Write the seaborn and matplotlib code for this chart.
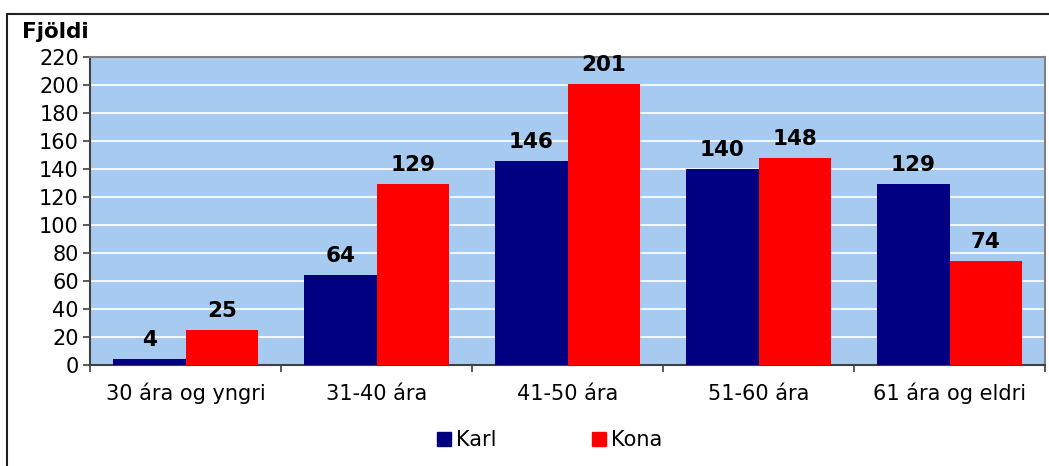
import matplotlib
matplotlib.use("Agg")
import matplotlib.pyplot as plt
import seaborn as sns
import pandas as pd
from matplotlib.lines import Line2D
from matplotlib.ticker import FixedLocator

categories = ["30 ára og yngri", "31-40 ára", "41-50 ára", "51-60 ára", "61 ára og eldri"]
karl = [4, 64, 146, 140, 129]
kona = [25, 129, 201, 148, 74]
series = ["Karl", "Kona"]
colors = ["#000080", "#FF0000"]

df = pd.DataFrame({
    "cat": categories * 2,
    "val": karl + kona,
    "sex": ["Karl"] * len(categories) + ["Kona"] * len(categories),
})

sns.set_style("white")
plt.rcParams["font.family"] = ["DejaVu Sans"]
plt.rcParams["text.color"] = "black"
plt.rcParams["xtick.color"] = "black"
plt.rcParams["ytick.color"] = "black"

W, H = 1049, 466
fig = plt.figure(figsize=(W / 100, H / 100), dpi=100)
ax = fig.add_axes([90 / W, 1 - 365 / H, (1045 - 90) / W, (365 - 57) / H])
ax.set_facecolor("#A6CAF0")

sns.barplot(data=df, x="cat", y="val", hue="sex", palette=colors,
            width=0.76, saturation=1, linewidth=0, edgecolor="none",
            ax=ax, legend=False, zorder=3)

ax.set_ylim(0, 220)
ax.set_xlim(-0.5, len(categories) - 0.5)
ax.set_yticks(range(0, 221, 20))
ax.yaxis.grid(True, color="white", linewidth=1.2, zorder=0)
ax.set_axisbelow(True)
ax.set_xlabel("")
ax.set_ylabel("")

for spine in ["top", "right"]:
    ax.spines[spine].set_color("#808080")
    ax.spines[spine].set_linewidth(1.5)
for spine in ["left", "bottom"]:
    ax.spines[spine].set_color("#404040")
    ax.spines[spine].set_linewidth(1.5)

ax.tick_params(axis="y", which="major", length=5, width=1.2, color="#404040",
               labelsize=15, pad=3, left=True, labelcolor="black")
ax.tick_params(axis="x", which="major", length=0, labelsize=15, pad=25,
               labelcolor="black")
for lbl in ax.get_xticklabels():
    lbl.set_verticalalignment("baseline")
ax.xaxis.set_minor_locator(FixedLocator([i - 0.5 for i in range(len(categories) + 1)]))
ax.tick_params(axis="x", which="minor", length=5, width=1.2, color="#404040", bottom=True)

for cont in ax.containers:
    ax.bar_label(cont, fmt="%d", padding=6.5, fontsize=15.5, fontweight="bold",
                 color="black")

fig.text(22 / W, 1 - 32 / H, "Fjöldi", fontsize=15.5, fontweight="bold",
         ha="left", va="center", color="black")

handles = [Line2D([0], [0], marker="s", linestyle="none", markersize=10.5,
                  markerfacecolor=c, markeredgecolor=c) for c in colors]
fig.legend(handles, series, loc="center", bbox_to_anchor=(549 / W, 1 - 440 / H),
           ncol=2, frameon=False, fontsize=15, handletextpad=0.15,
           columnspacing=4.55, handlelength=0.8, labelcolor="black")

# outer frame
fig.add_artist(Line2D([7 / W, 7 / W], [0, 1 - 14 / H], transform=fig.transFigure,
                      color="#202020", linewidth=1.5))
fig.add_artist(Line2D([7 / W, 1], [1 - 14 / H, 1 - 14 / H], transform=fig.transFigure,
                      color="#202020", linewidth=1.5))

fig.savefig("out.png", dpi=100, facecolor="white")
